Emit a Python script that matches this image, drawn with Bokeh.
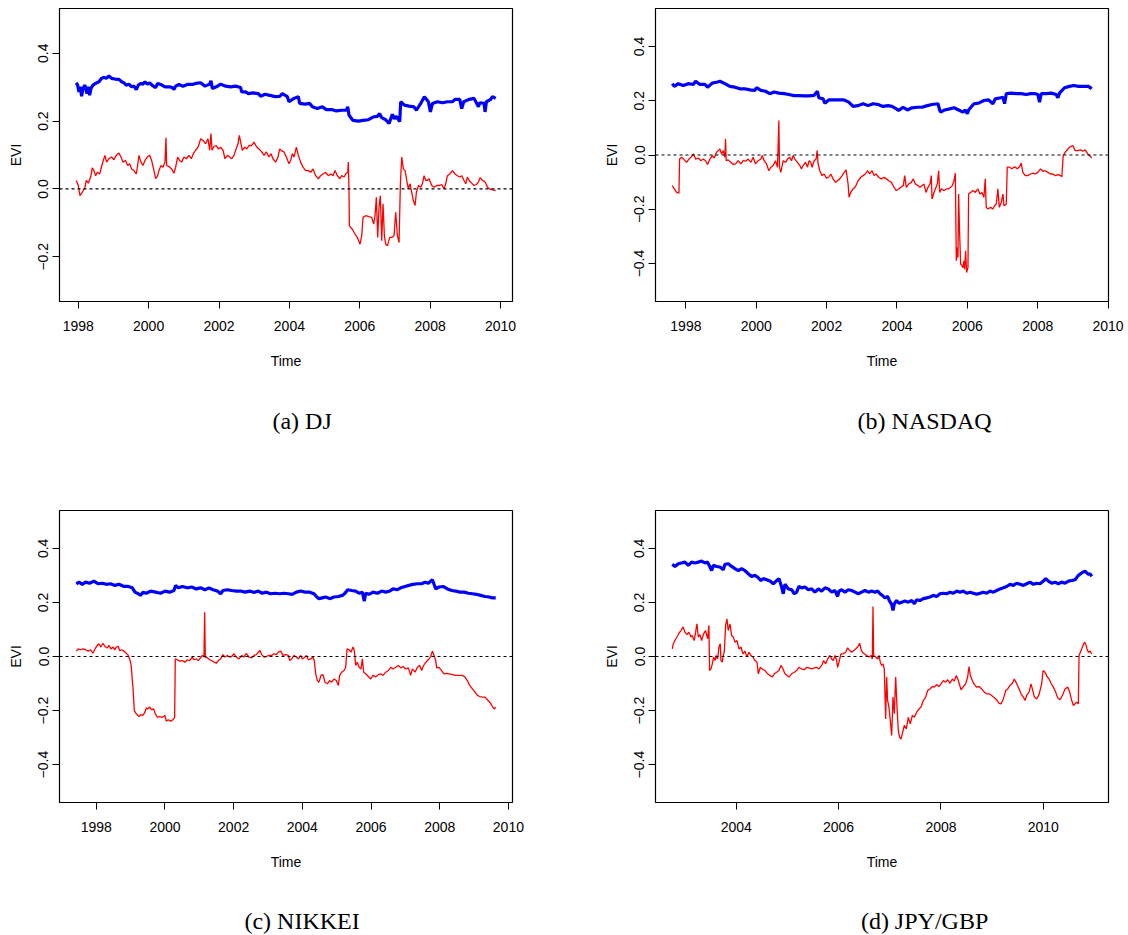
from bokeh.plotting import figure
from bokeh.models import Range1d, FixedTicker, Span, Label
from bokeh.layouts import column, row
from bokeh.embed import file_html
from bokeh.resources import INLINE

# ---------------- texts ----------------
captions = ["(a) DJ", "(b) NASDAQ", "(c) NIKKEI", "(d) JPY/GBP"]
y_title = "EVI"
x_title = "Time"
ref_level = 0.0

# ---------------- ticks ----------------
years_98 = [1998, 2000, 2002, 2004, 2006, 2008, 2010]
years_98_labels = ["1998", "2000", "2002", "2004", "2006", "2008", "2010"]
years_04 = [2004, 2006, 2008, 2010]
years_04_labels = ["2004", "2006", "2008", "2010"]
evi_ticks_a = [-0.2, 0.0, 0.2, 0.4]
evi_labels_a = ["\u22120.2", "0.0", "0.2", "0.4"]
evi_ticks = [-0.4, -0.2, 0.0, 0.2, 0.4]
evi_labels = ["\u22120.4", "\u22120.2", "0.0", "0.2", "0.4"]
ylim_a = (-0.3, 0.5)
ylim_bcd = (-0.5, 0.5)

# ---------------- (a) DJ : (time, EVI) ----------------
dj_blue = [(1997.944, 0.313), (1997.982, 0.306), (1998.020, 0.286), (1998.058, 0.301), (1998.096, 0.273),
           (1998.134, 0.296), (1998.190, 0.306), (1998.247, 0.281), (1998.285, 0.301), (1998.323, 0.276),
           (1998.361, 0.296), (1998.418, 0.306), (1998.494, 0.311), (1998.588, 0.316), (1998.664, 0.326),
           (1998.731, 0.329), (1998.797, 0.326), (1998.873, 0.333), (1998.948, 0.326), (1999.043, 0.324),
           (1999.157, 0.323), (1999.233, 0.316), (1999.299, 0.313), (1999.365, 0.306), (1999.441, 0.309),
           (1999.517, 0.301), (1999.583, 0.303), (1999.650, 0.293), (1999.707, 0.306), (1999.773, 0.311),
           (1999.839, 0.309), (1999.896, 0.316), (1999.962, 0.309), (2000.029, 0.313), (2000.104, 0.305),
           (2000.199, 0.299), (2000.256, 0.311), (2000.341, 0.308), (2000.464, 0.301), (2000.597, 0.301),
           (2000.673, 0.299), (2000.720, 0.293), (2000.768, 0.303), (2000.862, 0.308), (2000.976, 0.303),
           (2001.100, 0.308), (2001.242, 0.308), (2001.336, 0.311), (2001.478, 0.313), (2001.602, 0.303),
           (2001.734, 0.309), (2001.772, 0.319), (2001.810, 0.296), (2001.924, 0.301), (2002.047, 0.309),
           (2002.189, 0.303), (2002.331, 0.301), (2002.473, 0.303), (2002.615, 0.299), (2002.644, 0.286),
           (2002.757, 0.286), (2002.833, 0.281), (2002.966, 0.283), (2003.118, 0.281), (2003.184, 0.273),
           (2003.307, 0.279), (2003.440, 0.276), (2003.591, 0.272), (2003.724, 0.273), (2003.800, 0.281),
           (2003.942, 0.272), (2003.989, 0.257), (2004.131, 0.267), (2004.254, 0.272), (2004.292, 0.252),
           (2004.444, 0.250), (2004.577, 0.252), (2004.652, 0.242), (2004.794, 0.237), (2004.937, 0.242),
           (2005.050, 0.234), (2005.202, 0.234), (2005.335, 0.230), (2005.486, 0.232), (2005.619, 0.232),
           (2005.657, 0.242), (2005.695, 0.217), (2005.808, 0.202), (2005.960, 0.200), (2006.093, 0.202),
           (2006.244, 0.204), (2006.377, 0.212), (2006.500, 0.214), (2006.566, 0.222), (2006.623, 0.210),
           (2006.737, 0.204), (2006.831, 0.193), (2006.926, 0.220), (2006.983, 0.207), (2007.040, 0.214),
           (2007.135, 0.198), (2007.163, 0.257), (2007.267, 0.247), (2007.400, 0.244), (2007.542, 0.242),
           (2007.609, 0.232), (2007.732, 0.252), (2007.836, 0.272), (2007.950, 0.257), (2008.007, 0.227),
           (2008.063, 0.252), (2008.205, 0.257), (2008.348, 0.254), (2008.490, 0.257), (2008.632, 0.257),
           (2008.708, 0.264), (2008.840, 0.264), (2008.897, 0.237), (2008.954, 0.257), (2009.106, 0.264),
           (2009.248, 0.267), (2009.371, 0.242), (2009.409, 0.254), (2009.532, 0.252), (2009.560, 0.227),
           (2009.598, 0.257), (2009.721, 0.264), (2009.769, 0.272), (2009.863, 0.267)]
dj_red = [(1997.944, 0.025), (1998.001, 0.010), (1998.048, -0.020), (1998.115, -0.010), (1998.190, 0.005),
          (1998.228, 0.025), (1998.285, 0.017), (1998.352, 0.035), (1998.399, 0.062), (1998.446, 0.054),
          (1998.494, 0.039), (1998.541, 0.049), (1998.607, 0.044), (1998.664, 0.066), (1998.712, 0.084),
          (1998.759, 0.099), (1998.806, 0.079), (1998.873, 0.089), (1998.948, 0.094), (1999.015, 0.086),
          (1999.081, 0.099), (1999.157, 0.106), (1999.214, 0.094), (1999.271, 0.079), (1999.346, 0.084),
          (1999.403, 0.069), (1999.460, 0.074), (1999.517, 0.059), (1999.583, 0.054), (1999.650, 0.044),
          (1999.688, 0.069), (1999.725, 0.099), (1999.782, 0.079), (1999.839, 0.069), (1999.896, 0.084),
          (1999.962, 0.094), (2000.029, 0.099), (2000.085, 0.084), (2000.152, 0.054), (2000.199, 0.030),
          (2000.256, 0.039), (2000.294, 0.054), (2000.351, 0.069), (2000.408, 0.064), (2000.464, 0.079),
          (2000.493, 0.151), (2000.512, 0.069), (2000.578, 0.066), (2000.654, 0.059), (2000.720, 0.046),
          (2000.768, 0.064), (2000.825, 0.094), (2000.881, 0.084), (2000.938, 0.079), (2001.005, 0.094),
          (2001.071, 0.089), (2001.147, 0.099), (2001.213, 0.089), (2001.270, 0.104), (2001.336, 0.114),
          (2001.412, 0.125), (2001.478, 0.148), (2001.545, 0.143), (2001.620, 0.133), (2001.687, 0.148),
          (2001.734, 0.114), (2001.772, 0.163), (2001.800, 0.114), (2001.857, 0.125), (2001.924, 0.128),
          (2001.980, 0.118), (2002.047, 0.123), (2002.113, 0.114), (2002.170, 0.089), (2002.236, 0.099),
          (2002.303, 0.094), (2002.360, 0.089), (2002.426, 0.099), (2002.473, 0.114), (2002.540, 0.133),
          (2002.578, 0.158), (2002.615, 0.138), (2002.663, 0.114), (2002.729, 0.123), (2002.786, 0.118),
          (2002.852, 0.128), (2002.928, 0.128), (2002.994, 0.138), (2003.061, 0.125), (2003.137, 0.118),
          (2003.212, 0.109), (2003.279, 0.099), (2003.345, 0.109), (2003.421, 0.094), (2003.478, 0.104),
          (2003.534, 0.089), (2003.610, 0.079), (2003.676, 0.094), (2003.724, 0.118), (2003.781, 0.112),
          (2003.847, 0.109), (2003.913, 0.094), (2003.989, 0.074), (2004.037, 0.084), (2004.084, 0.104),
          (2004.131, 0.094), (2004.198, 0.123), (2004.254, 0.099), (2004.320, 0.079), (2004.387, 0.064),
          (2004.463, 0.054), (2004.538, 0.054), (2004.605, 0.049), (2004.671, 0.059), (2004.747, 0.039),
          (2004.823, 0.030), (2004.889, 0.039), (2004.955, 0.044), (2005.031, 0.049), (2005.107, 0.039),
          (2005.173, 0.044), (2005.240, 0.039), (2005.297, 0.054), (2005.363, 0.039), (2005.430, 0.030),
          (2005.486, 0.039), (2005.553, 0.035), (2005.600, 0.044), (2005.657, 0.049), (2005.676, 0.079),
          (2005.695, -0.015), (2005.704, -0.109), (2005.789, -0.119), (2005.865, -0.133), (2005.931, -0.143),
          (2006.007, -0.163), (2006.055, -0.138), (2006.093, -0.084), (2006.168, -0.079), (2006.263, -0.082),
          (2006.339, -0.084), (2006.396, -0.104), (2006.433, -0.079), (2006.471, -0.025), (2006.509, -0.143),
          (2006.547, -0.054), (2006.585, -0.020), (2006.623, -0.153), (2006.661, -0.044), (2006.699, -0.138),
          (2006.737, -0.163), (2006.785, -0.168), (2006.851, -0.143), (2006.908, -0.143), (2006.974, -0.138),
          (2007.021, -0.069), (2007.069, -0.138), (2007.116, -0.158), (2007.154, 0.015), (2007.192, 0.094),
          (2007.239, 0.059), (2007.287, 0.054), (2007.334, 0.025), (2007.381, 0.000), (2007.429, 0.015),
          (2007.476, -0.010), (2007.524, -0.035), (2007.571, -0.049), (2007.609, -0.010), (2007.666, 0.010),
          (2007.732, 0.005), (2007.779, 0.015), (2007.827, 0.039), (2007.874, 0.025), (2007.921, 0.025),
          (2007.969, 0.030), (2008.044, 0.010), (2008.111, 0.005), (2008.186, 0.010), (2008.253, 0.010),
          (2008.329, 0.013), (2008.395, 0.000), (2008.443, 0.015), (2008.490, 0.039), (2008.556, 0.044),
          (2008.632, 0.054), (2008.708, 0.044), (2008.774, 0.039), (2008.840, 0.035), (2008.897, 0.039),
          (2008.963, 0.025), (2009.011, 0.015), (2009.058, 0.035), (2009.106, 0.025), (2009.181, 0.017),
          (2009.248, 0.010), (2009.314, 0.013), (2009.371, 0.020), (2009.418, 0.033), (2009.485, 0.025),
          (2009.532, 0.023), (2009.579, 0.017), (2009.627, 0.005), (2009.693, 0.000), (2009.769, -0.003),
          (2009.863, -0.005)]

# ---------------- (b) NASDAQ ----------------
nq_blue = [(1997.613, 0.263), (1997.670, 0.253), (1997.783, 0.263), (1997.925, 0.256), (1998.067, 0.263),
           (1998.209, 0.260), (1998.276, 0.272), (1998.399, 0.260), (1998.541, 0.260), (1998.616, 0.250),
           (1998.749, 0.265), (1998.900, 0.269), (1998.966, 0.272), (1999.108, 0.263), (1999.250, 0.253),
           (1999.392, 0.250), (1999.534, 0.244), (1999.676, 0.244), (1999.818, 0.240), (1999.960, 0.238),
           (2000.007, 0.248), (2000.131, 0.238), (2000.263, 0.235), (2000.386, 0.226), (2000.509, 0.232),
           (2000.642, 0.228), (2000.793, 0.226), (2000.926, 0.223), (2001.077, 0.219), (2001.209, 0.219),
           (2001.361, 0.218), (2001.493, 0.218), (2001.645, 0.220), (2001.739, 0.235), (2001.777, 0.211),
           (2001.900, 0.207), (2001.948, 0.191), (2002.061, 0.203), (2002.213, 0.203), (2002.345, 0.203),
           (2002.497, 0.203), (2002.629, 0.195), (2002.752, 0.179), (2002.894, 0.182), (2003.036, 0.189),
           (2003.178, 0.182), (2003.320, 0.189), (2003.462, 0.186), (2003.604, 0.179), (2003.746, 0.182),
           (2003.859, 0.179), (2003.982, 0.170), (2004.049, 0.164), (2004.172, 0.176), (2004.295, 0.166),
           (2004.427, 0.174), (2004.579, 0.176), (2004.711, 0.176), (2004.863, 0.182), (2004.995, 0.186),
           (2005.165, 0.189), (2005.213, 0.166), (2005.241, 0.158), (2005.355, 0.166), (2005.497, 0.170),
           (2005.620, 0.174), (2005.752, 0.166), (2005.875, 0.158), (2005.941, 0.166), (2005.998, 0.152),
           (2006.036, 0.166), (2006.188, 0.189), (2006.320, 0.191), (2006.471, 0.201), (2006.604, 0.203),
           (2006.727, 0.189), (2006.793, 0.207), (2006.945, 0.211), (2007.011, 0.213), (2007.058, 0.189),
           (2007.106, 0.226), (2007.247, 0.228), (2007.389, 0.226), (2007.531, 0.226), (2007.674, 0.223),
           (2007.796, 0.226), (2007.929, 0.226), (2008.004, 0.223), (2008.052, 0.195), (2008.099, 0.226),
           (2008.241, 0.226), (2008.383, 0.228), (2008.525, 0.223), (2008.572, 0.211), (2008.620, 0.228),
           (2008.762, 0.248), (2008.903, 0.253), (2009.027, 0.256), (2009.159, 0.253), (2009.310, 0.253),
           (2009.443, 0.253), (2009.535, 0.244)]
nq_red = [(1997.613, -0.113), (1997.670, -0.125), (1997.736, -0.138), (1997.802, -0.141), (1997.821, -0.015),
          (1997.878, -0.008), (1997.954, -0.018), (1998.020, -0.027), (1998.086, -0.015), (1998.162, -0.006),
          (1998.219, 0.004), (1998.276, -0.015), (1998.351, -0.011), (1998.427, -0.021), (1998.493, -0.015),
          (1998.560, -0.021), (1998.616, -0.035), (1998.683, -0.015), (1998.749, -0.002), (1998.806, -0.011),
          (1998.872, 0.010), (1998.919, 0.016), (1998.966, 0.022), (1999.014, 0.004), (1999.061, 0.016),
          (1999.108, -0.008), (1999.127, 0.059), (1999.146, -0.021), (1999.203, -0.018), (1999.279, -0.027),
          (1999.345, -0.035), (1999.411, -0.033), (1999.487, -0.021), (1999.563, -0.033), (1999.629, -0.021),
          (1999.695, -0.023), (1999.771, -0.015), (1999.847, -0.027), (1999.913, -0.008), (1999.979, -0.033),
          (2000.055, -0.021), (2000.131, -0.015), (2000.168, -0.002), (2000.225, -0.021), (2000.291, -0.033),
          (2000.358, -0.058), (2000.414, -0.045), (2000.481, -0.039), (2000.547, -0.021), (2000.604, -0.045),
          (2000.642, 0.127), (2000.661, -0.045), (2000.698, -0.064), (2000.765, -0.021), (2000.831, -0.027),
          (2000.888, -0.015), (2000.954, -0.008), (2001.001, -0.021), (2001.049, -0.002), (2001.096, -0.015),
          (2001.172, -0.027), (2001.238, -0.039), (2001.285, -0.051), (2001.332, -0.039), (2001.399, -0.027),
          (2001.456, -0.045), (2001.503, -0.021), (2001.550, -0.027), (2001.588, -0.045), (2001.645, -0.021),
          (2001.701, -0.015), (2001.730, 0.016), (2001.758, -0.033), (2001.806, -0.058), (2001.872, -0.076),
          (2001.929, -0.070), (2001.995, -0.085), (2002.061, -0.082), (2002.118, -0.070), (2002.184, -0.088),
          (2002.251, -0.101), (2002.307, -0.095), (2002.373, -0.088), (2002.440, -0.076), (2002.497, -0.064),
          (2002.553, -0.055), (2002.610, -0.107), (2002.638, -0.156), (2002.686, -0.138), (2002.752, -0.125),
          (2002.818, -0.117), (2002.894, -0.095), (2002.970, -0.082), (2003.036, -0.076), (2003.102, -0.070),
          (2003.159, -0.058), (2003.225, -0.070), (2003.292, -0.058), (2003.348, -0.076), (2003.405, -0.070),
          (2003.481, -0.082), (2003.557, -0.088), (2003.632, -0.082), (2003.698, -0.088), (2003.765, -0.095),
          (2003.840, -0.101), (2003.916, -0.119), (2003.982, -0.131), (2004.049, -0.125), (2004.124, -0.117),
          (2004.181, -0.113), (2004.219, -0.076), (2004.266, -0.119), (2004.332, -0.107), (2004.408, -0.101),
          (2004.465, -0.088), (2004.522, -0.107), (2004.598, -0.113), (2004.654, -0.119), (2004.711, -0.113),
          (2004.768, -0.107), (2004.825, -0.138), (2004.881, -0.119), (2004.938, -0.107), (2004.976, -0.076),
          (2004.995, -0.162), (2005.052, -0.138), (2005.109, -0.119), (2005.146, -0.107), (2005.184, -0.058),
          (2005.213, -0.138), (2005.260, -0.125), (2005.336, -0.131), (2005.402, -0.125), (2005.468, -0.125),
          (2005.525, -0.119), (2005.572, -0.113), (2005.620, -0.095), (2005.658, -0.067), (2005.686, -0.390),
          (2005.714, -0.341), (2005.733, -0.378), (2005.752, -0.144), (2005.781, -0.292), (2005.809, -0.402),
          (2005.847, -0.408), (2005.875, -0.415), (2005.904, -0.390), (2005.923, -0.421), (2005.951, -0.353),
          (2005.979, -0.433), (2006.017, -0.415), (2006.036, -0.144), (2006.093, -0.138), (2006.159, -0.131),
          (2006.225, -0.138), (2006.301, -0.125), (2006.358, -0.144), (2006.415, -0.138), (2006.471, -0.156),
          (2006.509, -0.088), (2006.537, -0.193), (2006.585, -0.199), (2006.661, -0.193), (2006.727, -0.199),
          (2006.774, -0.187), (2006.822, -0.181), (2006.869, -0.125), (2006.907, -0.193), (2006.964, -0.175),
          (2007.011, -0.144), (2007.039, -0.187), (2007.106, -0.181), (2007.134, -0.045), (2007.200, -0.045),
          (2007.266, -0.051), (2007.342, -0.043), (2007.418, -0.051), (2007.484, -0.043), (2007.531, -0.030),
          (2007.578, -0.064), (2007.645, -0.076), (2007.721, -0.076), (2007.796, -0.070), (2007.863, -0.067),
          (2007.929, -0.070), (2008.004, -0.064), (2008.080, -0.051), (2008.146, -0.060), (2008.213, -0.058),
          (2008.288, -0.064), (2008.364, -0.070), (2008.430, -0.070), (2008.497, -0.076), (2008.572, -0.072),
          (2008.648, -0.076), (2008.686, -0.080), (2008.724, -0.002), (2008.781, 0.010), (2008.856, 0.022),
          (2008.932, 0.031), (2008.999, 0.035), (2009.065, 0.016), (2009.141, 0.016), (2009.216, 0.019),
          (2009.282, 0.014), (2009.349, 0.019), (2009.424, 0.004), (2009.472, -0.002), (2009.535, -0.011)]

# ---------------- (c) NIKKEI ----------------
nk_blue = [(1997.417, 0.269), (1997.495, 0.275), (1997.592, 0.267), (1997.689, 0.275), (1997.805, 0.271),
           (1997.931, 0.279), (1998.058, 0.269), (1998.174, 0.271), (1998.291, 0.267), (1998.417, 0.269),
           (1998.543, 0.263), (1998.660, 0.267), (1998.805, 0.259), (1998.931, 0.259), (1999.048, 0.254),
           (1999.126, 0.238), (1999.223, 0.232), (1999.291, 0.226), (1999.359, 0.238), (1999.456, 0.234),
           (1999.582, 0.242), (1999.728, 0.238), (1999.873, 0.234), (2000.000, 0.242), (2000.135, 0.238),
           (2000.262, 0.244), (2000.310, 0.263), (2000.388, 0.254), (2000.504, 0.259), (2000.650, 0.254),
           (2000.776, 0.257), (2000.912, 0.250), (2001.038, 0.254), (2001.165, 0.247), (2001.281, 0.254),
           (2001.398, 0.247), (2001.524, 0.242), (2001.621, 0.232), (2001.689, 0.244), (2001.815, 0.247),
           (2001.941, 0.244), (2002.077, 0.242), (2002.203, 0.242), (2002.330, 0.238), (2002.466, 0.242),
           (2002.592, 0.237), (2002.718, 0.242), (2002.834, 0.234), (2002.951, 0.238), (2003.077, 0.232),
           (2003.203, 0.234), (2003.339, 0.232), (2003.465, 0.234), (2003.592, 0.232), (2003.708, 0.230),
           (2003.825, 0.238), (2003.951, 0.242), (2004.077, 0.238), (2004.213, 0.238), (2004.339, 0.232),
           (2004.407, 0.222), (2004.485, 0.214), (2004.582, 0.217), (2004.679, 0.220), (2004.796, 0.214),
           (2004.922, 0.220), (2005.048, 0.222), (2005.165, 0.226), (2005.242, 0.234), (2005.320, 0.247),
           (2005.437, 0.244), (2005.553, 0.242), (2005.650, 0.234), (2005.747, 0.238), (2005.805, 0.205),
           (2005.844, 0.234), (2005.941, 0.230), (2006.058, 0.238), (2006.184, 0.234), (2006.310, 0.242),
           (2006.427, 0.238), (2006.543, 0.242), (2006.640, 0.250), (2006.767, 0.247), (2006.864, 0.254),
           (2006.990, 0.259), (2007.106, 0.263), (2007.223, 0.267), (2007.349, 0.269), (2007.476, 0.269),
           (2007.573, 0.275), (2007.670, 0.271), (2007.738, 0.279), (2007.786, 0.284), (2007.835, 0.267),
           (2007.883, 0.250), (2007.980, 0.257), (2008.097, 0.259), (2008.223, 0.250), (2008.349, 0.244),
           (2008.466, 0.242), (2008.582, 0.238), (2008.708, 0.238), (2008.835, 0.234), (2008.951, 0.232),
           (2009.068, 0.230), (2009.194, 0.226), (2009.320, 0.222), (2009.437, 0.220), (2009.534, 0.217),
           (2009.631, 0.217)]
nk_red = [(1997.417, 0.020), (1997.475, 0.028), (1997.543, 0.025), (1997.611, 0.028), (1997.689, 0.025),
          (1997.766, 0.020), (1997.834, 0.025), (1997.902, 0.012), (1997.961, 0.028), (1998.029, 0.041),
          (1998.077, 0.047), (1998.135, 0.035), (1998.194, 0.049), (1998.252, 0.037), (1998.320, 0.032),
          (1998.368, 0.041), (1998.427, 0.028), (1998.485, 0.035), (1998.543, 0.025), (1998.582, 0.035),
          (1998.640, 0.037), (1998.679, 0.022), (1998.737, 0.025), (1998.805, 0.020), (1998.873, 0.012),
          (1998.931, 0.004), (1998.970, -0.009), (1999.009, -0.027), (1999.067, -0.113), (1999.106, -0.200),
          (1999.164, -0.212), (1999.242, -0.222), (1999.300, -0.215), (1999.359, -0.218), (1999.417, -0.206),
          (1999.456, -0.190), (1999.495, -0.194), (1999.553, -0.187), (1999.611, -0.197), (1999.669, -0.194),
          (1999.728, -0.215), (1999.786, -0.225), (1999.844, -0.222), (1999.922, -0.225), (2000.000, -0.218),
          (2000.038, -0.239), (2000.097, -0.234), (2000.165, -0.239), (2000.232, -0.234), (2000.281, -0.225),
          (2000.300, -0.009), (2000.359, -0.012), (2000.427, -0.017), (2000.504, -0.015), (2000.582, -0.021),
          (2000.650, -0.012), (2000.718, -0.015), (2000.796, -0.002), (2000.844, -0.012), (2000.912, -0.009),
          (2000.970, -0.015), (2001.038, -0.005), (2001.087, 0.004), (2001.135, -0.002), (2001.155, 0.164),
          (2001.174, -0.002), (2001.233, -0.005), (2001.301, -0.012), (2001.359, -0.015), (2001.427, -0.021),
          (2001.495, -0.025), (2001.553, -0.015), (2001.621, -0.009), (2001.689, 0.007), (2001.747, -0.002),
          (2001.815, 0.004), (2001.883, -0.002), (2001.941, 0.000), (2002.009, 0.010), (2002.077, -0.002),
          (2002.155, -0.009), (2002.233, 0.004), (2002.300, -0.002), (2002.368, 0.012), (2002.446, -0.002),
          (2002.524, -0.005), (2002.592, 0.004), (2002.660, 0.007), (2002.718, 0.016), (2002.767, 0.022),
          (2002.815, 0.007), (2002.883, -0.002), (2002.951, 0.000), (2003.029, 0.004), (2003.106, 0.004),
          (2003.174, 0.010), (2003.242, 0.007), (2003.301, 0.016), (2003.369, 0.020), (2003.436, 0.004),
          (2003.514, 0.007), (2003.592, 0.004), (2003.631, -0.015), (2003.689, -0.009), (2003.757, 0.004),
          (2003.825, -0.002), (2003.883, -0.009), (2003.951, 0.004), (2004.000, -0.009), (2004.077, -0.002),
          (2004.116, 0.004), (2004.174, -0.012), (2004.242, -0.009), (2004.310, -0.002), (2004.349, -0.015),
          (2004.388, -0.064), (2004.436, -0.089), (2004.485, -0.095), (2004.543, -0.070), (2004.601, -0.067),
          (2004.660, -0.095), (2004.728, -0.101), (2004.796, -0.089), (2004.854, -0.095), (2004.922, -0.083),
          (2004.990, -0.089), (2005.048, -0.107), (2005.087, -0.070), (2005.145, -0.058), (2005.213, -0.052),
          (2005.262, -0.040), (2005.301, 0.028), (2005.359, 0.025), (2005.417, 0.016), (2005.475, 0.035),
          (2005.514, 0.022), (2005.553, -0.033), (2005.602, -0.021), (2005.650, -0.040), (2005.708, -0.046),
          (2005.747, -0.009), (2005.786, -0.058), (2005.844, -0.064), (2005.922, -0.074), (2005.990, -0.083),
          (2006.058, -0.070), (2006.136, -0.076), (2006.213, -0.067), (2006.281, -0.064), (2006.349, -0.070),
          (2006.427, -0.058), (2006.505, -0.052), (2006.573, -0.040), (2006.640, -0.046), (2006.718, -0.040),
          (2006.796, -0.033), (2006.864, -0.042), (2006.932, -0.037), (2007.009, -0.046), (2007.087, -0.042),
          (2007.155, -0.070), (2007.204, -0.046), (2007.281, -0.058), (2007.349, -0.040), (2007.417, -0.033),
          (2007.476, -0.052), (2007.514, -0.037), (2007.573, -0.025), (2007.640, -0.015), (2007.689, -0.009),
          (2007.738, 0.000), (2007.786, 0.020), (2007.835, 0.004), (2007.883, -0.015), (2007.912, -0.042),
          (2007.980, -0.040), (2008.058, -0.052), (2008.126, -0.064), (2008.194, -0.062), (2008.271, -0.064),
          (2008.369, -0.067), (2008.466, -0.070), (2008.563, -0.070), (2008.660, -0.070), (2008.738, -0.076),
          (2008.806, -0.089), (2008.874, -0.107), (2008.951, -0.120), (2009.029, -0.132), (2009.097, -0.144),
          (2009.165, -0.148), (2009.243, -0.150), (2009.320, -0.150), (2009.388, -0.160), (2009.456, -0.169),
          (2009.514, -0.181), (2009.582, -0.194), (2009.631, -0.187)]

# ---------------- (d) JPY/GBP ----------------
fx_blue = [(2002.750, 0.341), (2002.802, 0.333), (2002.867, 0.343), (2002.932, 0.346), (2002.997, 0.349),
           (2003.063, 0.337), (2003.128, 0.349), (2003.193, 0.346), (2003.258, 0.349), (2003.323, 0.353),
           (2003.388, 0.346), (2003.440, 0.349), (2003.486, 0.331), (2003.519, 0.318), (2003.551, 0.337),
           (2003.616, 0.333), (2003.681, 0.331), (2003.747, 0.321), (2003.779, 0.341), (2003.844, 0.343),
           (2003.909, 0.333), (2003.975, 0.325), (2004.040, 0.318), (2004.105, 0.325), (2004.170, 0.318),
           (2004.235, 0.306), (2004.300, 0.296), (2004.366, 0.300), (2004.431, 0.291), (2004.483, 0.281),
           (2004.528, 0.288), (2004.594, 0.284), (2004.659, 0.279), (2004.724, 0.269), (2004.789, 0.281),
           (2004.835, 0.288), (2004.887, 0.257), (2004.919, 0.232), (2004.952, 0.267), (2005.017, 0.250),
           (2005.082, 0.247), (2005.134, 0.232), (2005.180, 0.238), (2005.225, 0.259), (2005.278, 0.254),
           (2005.343, 0.257), (2005.408, 0.247), (2005.473, 0.250), (2005.538, 0.238), (2005.603, 0.250),
           (2005.669, 0.242), (2005.734, 0.254), (2005.799, 0.250), (2005.864, 0.238), (2005.929, 0.244),
           (2005.981, 0.222), (2006.007, 0.242), (2006.059, 0.247), (2006.125, 0.238), (2006.190, 0.247),
           (2006.255, 0.244), (2006.320, 0.238), (2006.385, 0.232), (2006.450, 0.238), (2006.515, 0.244),
           (2006.581, 0.238), (2006.646, 0.242), (2006.711, 0.238), (2006.763, 0.242), (2006.809, 0.232),
           (2006.854, 0.226), (2006.906, 0.217), (2006.958, 0.222), (2006.991, 0.207), (2007.037, 0.193),
           (2007.063, 0.170), (2007.089, 0.195), (2007.134, 0.207), (2007.180, 0.197), (2007.232, 0.201),
           (2007.297, 0.205), (2007.362, 0.201), (2007.428, 0.207), (2007.480, 0.195), (2007.525, 0.210),
           (2007.590, 0.207), (2007.655, 0.214), (2007.721, 0.217), (2007.786, 0.220), (2007.851, 0.226),
           (2007.916, 0.222), (2007.981, 0.232), (2008.046, 0.234), (2008.112, 0.232), (2008.177, 0.238),
           (2008.242, 0.234), (2008.307, 0.242), (2008.372, 0.238), (2008.437, 0.242), (2008.503, 0.234),
           (2008.568, 0.238), (2008.633, 0.234), (2008.698, 0.230), (2008.763, 0.234), (2008.828, 0.238),
           (2008.893, 0.234), (2008.959, 0.242), (2009.024, 0.238), (2009.089, 0.244), (2009.154, 0.250),
           (2009.219, 0.254), (2009.284, 0.259), (2009.350, 0.267), (2009.415, 0.263), (2009.480, 0.271),
           (2009.545, 0.267), (2009.610, 0.263), (2009.675, 0.269), (2009.740, 0.275), (2009.806, 0.267),
           (2009.871, 0.271), (2009.936, 0.269), (2010.001, 0.279), (2010.047, 0.288), (2010.099, 0.279),
           (2010.164, 0.271), (2010.229, 0.275), (2010.294, 0.269), (2010.359, 0.275), (2010.425, 0.271),
           (2010.490, 0.279), (2010.555, 0.281), (2010.620, 0.284), (2010.685, 0.300), (2010.750, 0.309),
           (2010.815, 0.316), (2010.881, 0.304), (2010.913, 0.306), (2010.946, 0.296)]
fx_red = [(2002.750, 0.028), (2002.769, 0.047), (2002.802, 0.059), (2002.841, 0.072), (2002.880, 0.086),
          (2002.919, 0.096), (2002.958, 0.109), (2002.997, 0.090), (2003.036, 0.081), (2003.076, 0.090),
          (2003.115, 0.072), (2003.141, 0.078), (2003.180, 0.059), (2003.206, 0.090), (2003.232, 0.121),
          (2003.258, 0.072), (2003.291, 0.081), (2003.323, 0.059), (2003.362, 0.084), (2003.401, 0.096),
          (2003.440, 0.065), (2003.466, 0.115), (2003.479, -0.052), (2003.506, -0.046), (2003.532, -0.027),
          (2003.558, -0.002), (2003.584, -0.015), (2003.610, 0.004), (2003.636, -0.009), (2003.662, 0.035),
          (2003.688, 0.047), (2003.701, -0.015), (2003.727, -0.021), (2003.747, 0.004), (2003.766, 0.016),
          (2003.792, 0.115), (2003.818, 0.139), (2003.844, 0.096), (2003.877, 0.121), (2003.909, 0.078),
          (2003.942, 0.072), (2003.975, 0.053), (2004.014, 0.059), (2004.053, 0.028), (2004.092, 0.035),
          (2004.131, 0.010), (2004.170, 0.020), (2004.209, -0.002), (2004.248, 0.016), (2004.287, 0.004),
          (2004.326, -0.002), (2004.366, -0.015), (2004.405, -0.021), (2004.431, -0.064), (2004.470, -0.040),
          (2004.509, -0.046), (2004.561, -0.052), (2004.613, -0.064), (2004.659, -0.070), (2004.704, -0.076),
          (2004.743, -0.064), (2004.789, -0.058), (2004.835, -0.052), (2004.874, -0.033), (2004.913, -0.046),
          (2004.952, -0.064), (2004.991, -0.070), (2005.030, -0.076), (2005.082, -0.064), (2005.134, -0.058),
          (2005.180, -0.052), (2005.225, -0.040), (2005.278, -0.046), (2005.330, -0.049), (2005.375, -0.040),
          (2005.421, -0.042), (2005.473, -0.046), (2005.525, -0.042), (2005.571, -0.040), (2005.616, -0.046),
          (2005.669, -0.033), (2005.708, -0.015), (2005.747, -0.027), (2005.786, -0.009), (2005.831, 0.004),
          (2005.864, -0.009), (2005.897, -0.015), (2005.929, 0.004), (2005.962, -0.015), (2005.981, -0.040),
          (2006.007, -0.021), (2006.046, 0.010), (2006.092, 0.010), (2006.138, 0.016), (2006.177, 0.032),
          (2006.216, 0.022), (2006.255, 0.016), (2006.294, 0.022), (2006.333, 0.028), (2006.372, 0.035),
          (2006.411, 0.049), (2006.437, 0.028), (2006.463, 0.016), (2006.502, 0.010), (2006.548, 0.004),
          (2006.594, -0.002), (2006.633, 0.004), (2006.659, -0.009), (2006.672, 0.185), (2006.685, 0.004),
          (2006.724, -0.002), (2006.763, -0.009), (2006.789, 0.004), (2006.815, -0.021), (2006.841, -0.033),
          (2006.867, -0.027), (2006.893, -0.046), (2006.919, -0.231), (2006.939, -0.076), (2006.958, -0.163),
          (2006.984, -0.187), (2007.010, -0.237), (2007.037, -0.292), (2007.063, -0.150), (2007.089, -0.212),
          (2007.115, -0.076), (2007.141, -0.187), (2007.167, -0.274), (2007.193, -0.299), (2007.219, -0.305),
          (2007.245, -0.286), (2007.284, -0.255), (2007.323, -0.268), (2007.362, -0.225), (2007.401, -0.249),
          (2007.441, -0.218), (2007.480, -0.225), (2007.525, -0.206), (2007.571, -0.194), (2007.610, -0.187),
          (2007.655, -0.163), (2007.701, -0.150), (2007.740, -0.126), (2007.786, -0.120), (2007.831, -0.111),
          (2007.870, -0.113), (2007.916, -0.104), (2007.962, -0.111), (2008.001, -0.101), (2008.046, -0.089),
          (2008.092, -0.095), (2008.131, -0.086), (2008.177, -0.099), (2008.222, -0.083), (2008.261, -0.091),
          (2008.300, -0.070), (2008.340, -0.089), (2008.392, -0.123), (2008.438, -0.111), (2008.483, -0.101),
          (2008.522, -0.076), (2008.548, -0.037), (2008.574, -0.070), (2008.613, -0.089), (2008.652, -0.104),
          (2008.698, -0.113), (2008.744, -0.111), (2008.796, -0.120), (2008.848, -0.132), (2008.893, -0.138),
          (2008.939, -0.138), (2008.991, -0.144), (2009.043, -0.153), (2009.089, -0.160), (2009.134, -0.173),
          (2009.174, -0.175), (2009.219, -0.157), (2009.265, -0.126), (2009.304, -0.120), (2009.350, -0.107),
          (2009.395, -0.099), (2009.434, -0.083), (2009.480, -0.101), (2009.526, -0.120), (2009.565, -0.138),
          (2009.610, -0.150), (2009.643, -0.163), (2009.675, -0.144), (2009.721, -0.132), (2009.760, -0.101),
          (2009.786, -0.120), (2009.825, -0.150), (2009.871, -0.157), (2009.916, -0.141), (2009.968, -0.101),
          (2009.995, -0.052), (2010.034, -0.058), (2010.073, -0.074), (2010.112, -0.083), (2010.151, -0.099),
          (2010.196, -0.113), (2010.242, -0.132), (2010.281, -0.153), (2010.327, -0.160), (2010.372, -0.144),
          (2010.425, -0.120), (2010.477, -0.113), (2010.516, -0.132), (2010.555, -0.163), (2010.588, -0.181),
          (2010.620, -0.175), (2010.652, -0.169), (2010.685, -0.175), (2010.698, 0.004), (2010.724, 0.016),
          (2010.750, 0.028), (2010.776, 0.041), (2010.802, 0.053), (2010.828, 0.047), (2010.854, 0.028),
          (2010.881, 0.016), (2010.913, 0.020), (2010.946, 0.010)]

BLUE = "#0000ff"
RED = "#ff0000"
SANS = "Liberation Sans"
NARROW = "'Liberation Sans Narrow', 'Liberation Sans', sans-serif"
SERIF = "Liberation Serif"

FIG_W = 564


def padded(lo, hi, frac=0.04):
    d = (hi - lo) * frac
    return lo - d, hi + d


def make_panel(blue, red, ylim, xt, xtl, yt, ytl,
               height, b_left, b_right, b_top, b_bottom):
    bt, bv = [list(a) for a in zip(*blue)]
    rt, rv = [list(a) for a in zip(*red)]
    x0, x1 = padded(min(bt + rt), max(bt + rt))
    y0, y1 = padded(*ylim)
    p = figure(width=FIG_W, height=height, x_range=Range1d(x0, x1), y_range=Range1d(y0, y1),
               output_backend="svg", toolbar_location=None, title=None,
               min_border_left=b_left, min_border_right=b_right,
               min_border_top=b_top, min_border_bottom=b_bottom,
               background_fill_color="white", border_fill_color="white")
    p.outline_line_color = "black"
    p.outline_line_width = 1.2
    p.xgrid.visible = False
    p.ygrid.visible = False

    p.line(bt, bv, line_color=BLUE, line_width=3.2)
    p.line(rt, rv, line_color=RED, line_width=1.3)
    p.add_layout(Span(location=ref_level, dimension="width", line_color="black",
                      line_dash="3 3", line_width=1.2))

    xa = p.xaxis[0]
    xa.ticker = FixedTicker(ticks=xt)
    xa.major_label_overrides = {t: s for t, s in zip(xt, xtl)}
    xa.axis_label = x_title
    ya = p.yaxis[0]
    ya.ticker = FixedTicker(ticks=yt)
    ya.major_label_overrides = {t: s for t, s in zip(yt, ytl)}
    ya.axis_label = y_title
    ya.major_label_orientation = "vertical"

    for ax in (xa, ya):
        ax.axis_line_color = "black"
        ax.major_tick_line_color = "black"
        ax.major_tick_out = 7
        ax.major_tick_in = 0
        ax.minor_tick_line_color = None
        ax.major_label_text_color = "black"
        ax.axis_label_text_color = "black"
        ax.axis_label_text_font_style = "normal"
        ax.major_label_text_font_size = "14px"
        ax.axis_label_text_font_size = "14px"
    xa.major_label_text_font = NARROW
    xa.axis_label_text_font = NARROW
    ya.major_label_text_font = SANS
    ya.axis_label_text_font = SANS
    xa.major_label_standoff = 12
    xa.axis_label_standoff = 19
    ya.major_label_standoff = 4
    ya.axis_label_standoff = 12
    return p


def make_caption(text, height, cx, cy_from_top):
    c = figure(width=FIG_W, height=height, x_range=Range1d(0, FIG_W), y_range=Range1d(height, 0),
               output_backend="svg", toolbar_location=None, title=None,
               x_axis_location=None, y_axis_location=None, min_border=0,
               background_fill_color="white", border_fill_color="white")
    c.outline_line_color = None
    c.xgrid.visible = False
    c.ygrid.visible = False
    c.add_layout(Label(x=cx, y=cy_from_top, text=text, text_align="center", text_baseline="middle",
                       text_font=SERIF, text_font_size="24px", text_color="black"))
    return c


pa = make_panel(dj_blue, dj_red, ylim_a, years_98, years_98_labels,
                evi_ticks_a, evi_labels_a, 390, 59, 52, 8, 89)
pb = make_panel(nq_blue, nq_red, ylim_bcd, years_98, years_98_labels,
                evi_ticks, evi_labels, 390, 91, 20, 8, 89)
pc = make_panel(nk_blue, nk_red, ylim_bcd, years_98, years_98_labels,
                evi_ticks, evi_labels, 423, 59, 52, 43, 88)
pd = make_panel(fx_blue, fx_red, ylim_bcd, years_04, years_04_labels,
                evi_ticks, evi_labels, 423, 91, 20, 43, 88)

ca = make_caption(captions[0], 77, 302, 30)
cb = make_caption(captions[1], 77, 335, 30)
cc = make_caption(captions[2], 45, 302, 30)
cd = make_caption(captions[3], 45, 335, 30)

layout = column(row(column(pa, ca), column(pb, cb)), row(column(pc, cc), column(pd, cd)))
open("out.html", "w").write(file_html(layout, INLINE))
